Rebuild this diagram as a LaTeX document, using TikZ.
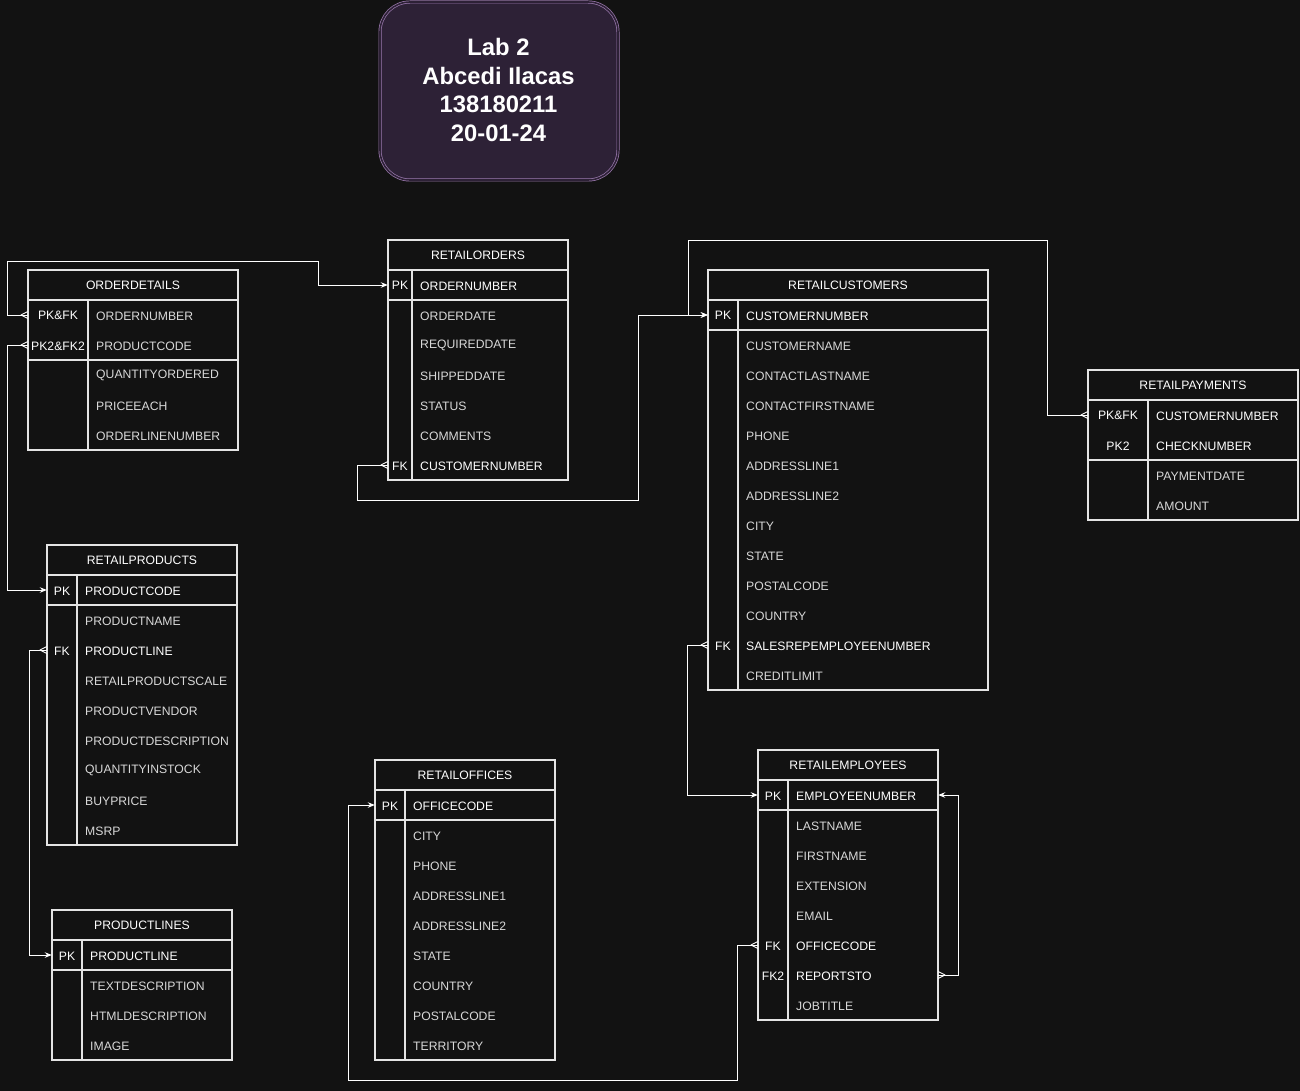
\documentclass[tikz,border=0pt]{standalone}
\usepackage{fontspec}
\setmainfont{Liberation Sans}
\usetikzlibrary{arrows.meta}

\definecolor{bg}{HTML}{121212}
\definecolor{fg}{HTML}{D8D8D8}
\definecolor{hi}{HTML}{FFFFFF}
\definecolor{edge}{HTML}{E4E4E4}
\definecolor{notefill}{HTML}{2D2136}
\definecolor{noteedge}{HTML}{9A78AD}

\tikzset{
  tbl/.style={draw=edge, line width=1.4pt},
  ttl/.style={minimum height=30pt, inner sep=0pt, text=hi, font=\fontsize{12.2}{14}\selectfont},
  rowbox/.style={minimum height=30pt, inner sep=0pt},
  keytxt/.style={inner sep=0pt, text=hi, font=\fontsize{12.2}{14}\selectfont},
  fld/.style={inner sep=0pt, font=\fontsize{12.2}{14}\selectfont},
  conn/.style={draw=hi, line width=0.9pt},
  toone/.style={conn, -{Stealth[length=7pt,width=5.5pt]}},
  note/.style={draw=noteedge, fill=notefill, line width=0.7pt, double=notefill,
    double distance=1.6pt, rounded corners=30pt},
}

% entity table: id, left, top, width, key column width, title, rows in key section, rows
\newcommand\erdtable[8]{%
  \begin{scope}[shift={(#2,#3)}]
    \node[ttl, minimum width=#4] (#1) at ({#4/2},15.6) {#6};
    \foreach \ekey/\efld/\ecol [count=\erow] in {#8} {
      \node[rowbox, minimum width=#4] (#1-\erow) at ({#4/2},{15+30*\erow}) {};
      \node[keytxt] at ({#5/2},{15.8+30*\erow}) {\ekey};
      \node[fld, text=\ecol, anchor=west] at ({#5+8},{15.8+30*\erow}) {\efld};
      \xdef\erdn{\erow}
    }
    \draw[tbl] (0,0) rectangle (#4,{30+30*\erdn});
    \draw[tbl] (0,30) -- (#4,30);
    \draw[tbl] (0,{30+30*#7}) -- (#4,{30+30*#7});
    \draw[tbl] (#5,30) -- (#5,{30+30*\erdn});
  \end{scope}}

% crow's foot (many) at the west / east side of a row anchor
\newcommand\crowW[1]{\draw[conn] ([xshift=-7pt]#1) -- ([yshift=3.5pt]#1)
  ([xshift=-7pt]#1) -- ([yshift=-3.5pt]#1);}
\newcommand\crowE[1]{\draw[conn] ([xshift=7pt]#1) -- ([yshift=3.5pt]#1)
  ([xshift=7pt]#1) -- ([yshift=-3.5pt]#1);}

\begin{document}
\begin{tikzpicture}[x=1pt, y=-1pt]
  \fill[bg] (0,0) rectangle (1300,1091);

  % heading note
  \draw[note] (380,2) rectangle (618,180);
  \node[align=center, text=hi, font=\bfseries\fontsize{23.8}{28.5}\selectfont] (heading) at (498.5,90)
    {Lab 2\\Abcedi Ilacas\\138180211\\20-01-24};

  \erdtable{od}{28}{270}{210}{60}{ORDERDETAILS}{2}{
    PK\&FK/ORDERNUMBER/fg, PK2\&FK2/PRODUCTCODE/fg,
    {}/QUANTITYORDERED/fg, {}/PRICEEACH/fg, {}/ORDERLINENUMBER/fg}

  \erdtable{ro}{388}{240}{180}{24}{RETAILORDERS}{1}{
    PK/ORDERNUMBER/hi, {}/ORDERDATE/fg, {}/REQUIREDDATE/fg, {}/SHIPPEDDATE/fg,
    {}/STATUS/fg, {}/COMMENTS/fg, FK/CUSTOMERNUMBER/hi}

  \erdtable{rc}{708}{270}{280}{30}{RETAILCUSTOMERS}{1}{
    PK/CUSTOMERNUMBER/hi, {}/CUSTOMERNAME/fg, {}/CONTACTLASTNAME/fg,
    {}/CONTACTFIRSTNAME/fg, {}/PHONE/fg, {}/ADDRESSLINE1/fg, {}/ADDRESSLINE2/fg,
    {}/CITY/fg, {}/STATE/fg, {}/POSTALCODE/fg, {}/COUNTRY/fg,
    FK/SALESREPEMPLOYEENUMBER/hi, {}/CREDITLIMIT/fg}

  \erdtable{pay}{1088}{370}{210}{60}{RETAILPAYMENTS}{2}{
    PK\&FK/CUSTOMERNUMBER/hi, PK2/CHECKNUMBER/hi, {}/PAYMENTDATE/fg, {}/AMOUNT/fg}

  \erdtable{rp}{47}{545}{190}{30}{RETAILPRODUCTS}{1}{
    PK/PRODUCTCODE/hi, {}/PRODUCTNAME/fg, FK/PRODUCTLINE/hi,
    {}/RETAILPRODUCTSCALE/fg, {}/PRODUCTVENDOR/fg, {}/PRODUCTDESCRIPTION/fg,
    {}/QUANTITYINSTOCK/fg, {}/BUYPRICE/fg, {}/MSRP/fg}

  \erdtable{pl}{52}{910}{180}{30}{PRODUCTLINES}{1}{
    PK/PRODUCTLINE/hi, {}/TEXTDESCRIPTION/fg, {}/HTMLDESCRIPTION/fg, {}/IMAGE/fg}

  \erdtable{of}{375}{760}{180}{30}{RETAILOFFICES}{1}{
    PK/OFFICECODE/hi, {}/CITY/fg, {}/PHONE/fg, {}/ADDRESSLINE1/fg,
    {}/ADDRESSLINE2/fg, {}/STATE/fg, {}/COUNTRY/fg, {}/POSTALCODE/fg, {}/TERRITORY/fg}

  \erdtable{re}{758}{750}{180}{30}{RETAILEMPLOYEES}{1}{
    PK/EMPLOYEENUMBER/hi, {}/LASTNAME/fg, {}/FIRSTNAME/fg, {}/EXTENSION/fg,
    {}/EMAIL/fg, FK/OFFICECODE/hi, FK2/REPORTSTO/hi, {}/JOBTITLE/fg}

  % relationships
  \draw[toone] (od-1.west) -- ++(-20,0) |- (318,261) |- (ro-1.west);
  \crowW{od-1.west}
  \draw[toone] (od-2.west) -- ++(-20,0) |- (rp-1.west);
  \crowW{od-2.west}
  \draw[toone] (ro-7.west) -- ++(-30,0) |- (638,500) |- (rc-1.west);
  \crowW{ro-7.west}
  \draw[toone] (pay-1.west) -- ++(-40,0) |- (688,240) |- (rc-1.west);
  \crowW{pay-1.west}
  \draw[toone] (rc-12.west) -- ++(-20,0) |- (re-1.west);
  \crowW{rc-12.west}
  \draw[toone] (rp-3.west) -- ++(-17,0) |- (pl-1.west);
  \crowW{rp-3.west}
  \draw[toone] (re-6.west) -- ++(-20,0) |- (348,1080) |- (of-1.west);
  \crowW{re-6.west}
  \draw[toone] (re-7.east) -- ++(20,0) |- (re-1.east);
  \crowE{re-7.east}
\end{tikzpicture}
\end{document}
